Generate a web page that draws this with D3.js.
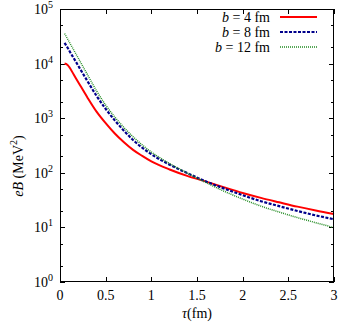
<!DOCTYPE html>
<html>
<head>
<meta charset="utf-8">
<script src="https://cdn.jsdelivr.net/npm/d3@7"></script>
<style>
  body { margin: 0; background: #fff; }
  text { font-family: "Liberation Serif", "DejaVu Serif", serif; fill: #000; }
</style>
</head>
<body>
<div id="chart"></div>
<script>
// data
var tau = [0.05, 0.08, 0.1, 0.15, 0.2, 0.3, 0.4, 0.5, 0.6, 0.7, 0.8, 0.9, 1.0,
           1.2, 1.4, 1.6, 1.8, 2.0, 2.2, 2.4, 2.6, 2.8, 3.0];
var eB_b4  = [10000, 9550, 8710, 6310, 4570, 2400, 1320, 813, 525, 363, 263, 204, 162,
              115, 87, 69, 54, 42.7, 34.7, 28.8, 24.0, 20.4, 17.6];
var eB_b8  = [24000, 19950, 17380, 12590, 9120, 4790, 2570, 1480, 912, 589, 398, 288, 219,
              141, 97.7, 69.2, 51.3, 38.9, 30.2, 24.5, 20.0, 16.6, 14.1];
var eB_b12 = [35500, 28800, 25100, 17800, 12600, 6310, 3160, 1740, 1050, 676, 457, 324, 240,
              148, 97.7, 66, 45.7, 33.1, 24.5, 19.1, 15.1, 12.2, 9.9];
var seriesNames = ["b = 4 fm", "b = 8 fm", "b = 12 fm"];
var xTicks = [0, 0.5, 1, 1.5, 2, 2.5, 3];
var xTickLabels = ["0", "0.5", "1", "1.5", "2", "2.5", "3"];
var yExps = [0, 1, 2, 3, 4, 5];

var W = 340, H = 324;
var margin = { top: 9, right: 6, bottom: 42, left: 60 };
var width = W - margin.left - margin.right,
    height = H - margin.top - margin.bottom;

var svg = d3.select("#chart").append("svg")
  .attr("width", W).attr("height", H);
var g = svg.append("g")
  .attr("transform", "translate(" + margin.left + "," + margin.top + ")");

var x = d3.scaleLinear().domain([0, 3]).range([0, width]);
var y = d3.scaleLog().domain([1, 1e5]).range([height, 0]);

// ticks, drawn inward on all four sides
var minor = [];
yExps.forEach(function (e) {
  if (e < 5) { minor.push(2 * Math.pow(10, e)); minor.push(5 * Math.pow(10, e)); }
});
var ticks = g.append("g").attr("stroke", "#000").attr("stroke-width", 1);
xTicks.forEach(function (t) {
  var px = Math.round(x(t)) + 0.5;
  ticks.append("line").attr("x1", px).attr("x2", px).attr("y1", height).attr("y2", height - 5);
  ticks.append("line").attr("x1", px).attr("x2", px).attr("y1", 0).attr("y2", 5);
});
yExps.forEach(function (e) {
  var py = Math.round(y(Math.pow(10, e))) + 0.5;
  ticks.append("line").attr("x1", 0).attr("x2", 5).attr("y1", py).attr("y2", py);
  ticks.append("line").attr("x1", width).attr("x2", width - 5).attr("y1", py).attr("y2", py);
});
minor.forEach(function (v) {
  var py = Math.round(y(v)) + 0.5;
  ticks.append("line").attr("x1", 0).attr("x2", 3).attr("y1", py).attr("y2", py);
  ticks.append("line").attr("x1", width).attr("x2", width - 3).attr("y1", py).attr("y2", py);
});

// tick labels
g.selectAll(".xl").data(xTicks).enter().append("text")
  .attr("x", function (d) { return x(d); })
  .attr("y", height + 18)
  .attr("text-anchor", "middle")
  .style("font-size", "14px")
  .text(function (d, i) { return xTickLabels[i]; });

var yl = g.selectAll(".yl").data(yExps).enter().append("text")
  .attr("x", -7)
  .attr("y", function (d) { return y(Math.pow(10, d)) + 5; })
  .attr("text-anchor", "end")
  .style("font-size", "14px");
yl.append("tspan").text("10");
yl.append("tspan").attr("dy", -6).style("font-size", "10px").text(function (d) { return d; });

// curves
var line = d3.line()
  .x(function (d) { return x(d[0]); })
  .y(function (d) { return y(d[1]); })
  .curve(d3.curveMonotoneX);

var styles = [
  { color: "#ff0000", w: 2, dash: null },
  { color: "#00008b", w: 2.2, dash: "3,1.5" },
  { color: "#228b22", w: 1.5, dash: "1,1" }
];
[eB_b4, eB_b8, eB_b12].forEach(function (vals, i) {
  var pts = tau.map(function (t, j) { return [t, vals[j]]; });
  g.append("path").datum(pts)
    .attr("d", line)
    .attr("fill", "none")
    .attr("stroke", styles[i].color)
    .attr("stroke-width", styles[i].w)
    .attr("stroke-dasharray", styles[i].dash);
});

// frame
g.append("rect").attr("x", 0.5).attr("y", 0.5)
  .attr("width", width - 1).attr("height", height - 1)
  .attr("fill", "none").attr("stroke", "#000").attr("stroke-width", 1);

// legend
seriesNames.forEach(function (name, i) {
  var ly = 17 + i * 15;
  var t = svg.append("text").attr("x", 270).attr("y", ly + 5)
    .attr("text-anchor", "end").style("font-size", "14px");
  var parts = name.split(" ");
  t.append("tspan").style("font-style", "italic").text(parts[0]);
  t.append("tspan").text(" = " + parts[2] + " " + parts[3]);
  svg.append("line").attr("x1", 280).attr("x2", 317).attr("y1", ly).attr("y2", ly)
    .attr("stroke", styles[i].color)
    .attr("stroke-width", styles[i].w)
    .attr("stroke-dasharray", styles[i].dash);
});

// axis titles
var xt = svg.append("text").attr("x", 197).attr("y", 318)
  .attr("text-anchor", "middle").style("font-size", "14px");
xt.append("tspan").style("font-style", "italic").text("τ");
xt.append("tspan").text("(fm)");

var yt = svg.append("text")
  .attr("transform", "translate(23,166) rotate(-90)")
  .attr("text-anchor", "middle").style("font-size", "14px");
yt.append("tspan").style("font-style", "italic").text("eB");
yt.append("tspan").text(" (MeV");
yt.append("tspan").attr("dy", -6).style("font-size", "10px").text("2");
yt.append("tspan").attr("dy", 6).text(")");
</script>
</body>
</html>
